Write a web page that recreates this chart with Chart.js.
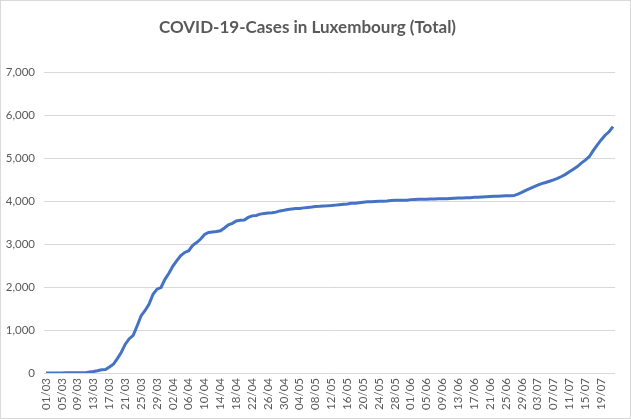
<!DOCTYPE html>
<html>
<head>
<meta charset="utf-8">
<script src="https://cdn.jsdelivr.net/npm/chart.js@4"></script>
<style>
  html, body { margin: 0; padding: 0; background: #ffffff; }
  #wrap { width: 631px; height: 419px; position: relative; }
</style>
</head>
<body>
<div id="wrap"><canvas id="c" width="631" height="419"></canvas></div>
<script>
// Daily dates 01/03 .. 22/07
const monthDays = [["03", 31], ["04", 30], ["05", 31], ["06", 30], ["07", 22]];
const dates = [];
monthDays.forEach(([m, n]) => { for (let d = 1; d <= n; d++) dates.push(String(d).padStart(2, "0") + "/" + m); });

const casesMarch = [1, 1, 1, 1, 2, 3, 4, 5, 5, 7, 7, 26, 34, 51, 77, 81, 140, 203, 335, 484,
  670, 798, 875, 1099, 1333, 1453, 1605, 1831, 1950, 1988, 2178];
const casesApril = [2319, 2487, 2612, 2729, 2804, 2843, 2970, 3034, 3115, 3223, 3270, 3281, 3292, 3307, 3373,
  3444, 3480, 3537, 3550, 3558, 3618, 3654, 3665, 3695, 3711, 3723, 3729, 3741, 3769, 3784];
const casesMay = [3802, 3812, 3824, 3828, 3840, 3851, 3859, 3871, 3877, 3886, 3888, 3894, 3904, 3915, 3923, 3930,
  3945, 3947, 3958, 3971, 3980, 3981, 3990, 3993, 3995, 4001, 4012, 4016, 4018, 4020, 4020];
const casesJune = [4032, 4035, 4039, 4040, 4040, 4045, 4047, 4050, 4052, 4055, 4060, 4065, 4070, 4072, 4075,
  4078, 4085, 4090, 4095, 4100, 4105, 4108, 4113, 4118, 4120, 4122, 4125, 4160, 4200, 4245];
const casesJuly = [4290, 4330, 4370, 4405, 4430, 4460, 4490, 4525, 4570, 4620, 4680, 4740, 4800, 4880, 4950,
  5030, 5170, 5300, 5420, 5530, 5610, 5730];
const totalCases = [].concat(casesMarch, casesApril, casesMay, casesJune, casesJuly);

const titleText = "COVID-19-Cases in Luxembourg (Total)";
const yTicks = [0, 1000, 2000, 3000, 4000, 5000, 6000, 7000];

const borderPlugin = {
  id: "chartBorder",
  afterDraw(chart) {
    const ctx = chart.ctx;
    ctx.save();
    ctx.strokeStyle = "#d9d9d9";
    ctx.lineWidth = 1;
    ctx.strokeRect(0.5, 0.5, chart.width - 1, chart.height - 1);
    ctx.restore();
  }
};

new Chart(document.getElementById("c"), {
  type: "line",
  data: {
    labels: dates,
    datasets: [{
      data: totalCases,
      borderColor: "#4472C4",
      borderWidth: 3,
      pointRadius: 0,
      tension: 0,
      fill: false
    }]
  },
  options: {
    responsive: false,
    animation: false,
    devicePixelRatio: 1,
    layout: { padding: { left: 0, right: 16, top: 0, bottom: 0 } },
    plugins: {
      legend: { display: false },
      tooltip: { enabled: false },
      title: {
        display: true,
        text: titleText,
        color: "#595959",
        font: { family: "Lato", size: 17, weight: "bold" },
        padding: { top: 17, bottom: 34.6 }
      }
    },
    scales: {
      x: {
        type: "category",
        offset: true,
        grid: { display: false, drawTicks: false },
        border: { display: false },
        ticks: {
          autoSkip: false,
          maxRotation: 90,
          minRotation: 90,
          padding: 5,
          color: "#595959",
          font: { family: "Lato", size: 11.5 },
          callback: function (v, i) { return i % 4 === 0 ? dates[i] : null; }
        },
        afterFit(s) { s.height = 46; }
      },
      y: {
        min: 0,
        max: 7000,
        afterBuildTicks(s) { s.ticks = yTicks.map(v => ({ value: v })); },
        grid: { color: "#d9d9d9", lineWidth: 1, drawTicks: false },
        border: { display: false },
        ticks: {
          padding: 9,
          color: "#595959",
          font: { family: "Lato", size: 11.5 },
          callback: v => v.toLocaleString("en-US")
        },
        afterFit(s) { s.width = 44; }
      }
    }
  },
  plugins: [borderPlugin]
});
</script>
</body>
</html>
